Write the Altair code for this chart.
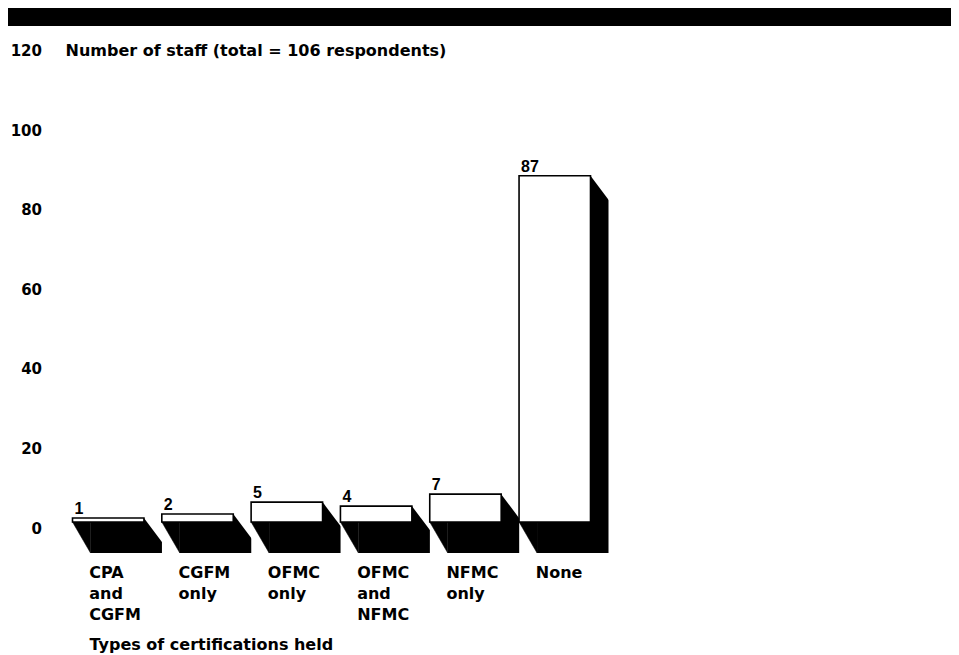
import altair as alt
import pandas as pd

categories = ["CPA and CGFM", "CGFM only", "OFMC only", "OFMC and NFMC", "NFMC only", "None"]
counts = [1, 2, 5, 4, 7, 87]
y_ticks = [0, 20, 40, 60, 80, 100, 120]

df = pd.DataFrame({"cat": categories, "n": counts, "zero": [0] * len(counts)})

TEXT_FONT = "DejaVu Sans"
NUM_FONT = "Liberation Sans"

xscale = alt.Scale(domain=categories, paddingInner=0.2, paddingOuter=0)
yscale = alt.Scale(domain=[0, 120], nice=False, zero=True)

x_axis = alt.Axis(
    title="Types of certifications held",
    labelExpr="split(datum.label, ' ')",
    labelAngle=0, labelAlign="left", labelBaseline="top", labelOffset=-19,
    labelPadding=42, labelLineHeight=21, labelOverlap=False, labelFlush=False,
    labelFont=TEXT_FONT, labelFontSize=16, labelFontWeight="bold", labelColor="black",
    labelLimit=300,
    domain=False, ticks=False, grid=False,
    titleX=16.5, titleY=114, titleAlign="left", titleBaseline="top", titleAnchor="start",
    titleFont=TEXT_FONT, titleFontSize=16, titleFontWeight="bold", titleColor="black",
)
y_axis = alt.Axis(
    values=y_ticks,
    title="Number of staff (total = 106 respondents)",
    labelPadding=31, labelOffset=6, labelAlign="right", labelBaseline="middle",
    labelFont=TEXT_FONT, labelFontSize=15, labelFontWeight="bold", labelColor="black",
    domain=False, ticks=False, grid=False,
    titleAngle=0, titleX=-7.5, titleY=5.6, titleAlign="left", titleBaseline="middle",
    titleFont=TEXT_FONT, titleFontSize=16, titleFontWeight="bold", titleColor="black",
)

def X(band_pos=None):
    if band_pos is None:
        return alt.X("cat:N", scale=xscale, sort=categories, axis=x_axis)
    return alt.X("cat:N", scale=xscale, sort=categories, axis=x_axis, bandPosition=band_pos)

Yn = alt.Y("n:Q", scale=yscale, axis=y_axis)
Y0 = alt.Y("zero:Q", scale=yscale, axis=y_axis)

base = alt.Chart(df)

# top decorative black band
band = alt.Chart(pd.DataFrame({"k": [0]})).mark_rect(color="black").encode(
    x=alt.value(-64.5), x2=alt.value(878.5), y=alt.value(-36.4), y2=alt.value(-18.4)
)

# extruded black depth (shifted right, extended below baseline)
depth = base.mark_bar(color="black", xOffset=18, yOffset=0, y2Offset=31).encode(
    x=X(), y=Yn, y2=alt.Y2("zero:Q")
)

# white cut at the top-right to make the slanted edge
cut = base.mark_point(
    shape="M-0.75,-1L19.5,-1L19.5,26Z", size=4, filled=True, fill="white",
    stroke="white", strokeWidth=0, strokeOpacity=0, opacity=1,
).encode(x=X(1), y=Yn)

# black slanted triangle at bottom-left
foot = base.mark_point(
    shape="M0,0L18,31L18,0Z", size=4, filled=True, fill="black",
    stroke="black", strokeWidth=0.5, opacity=1,
).encode(x=X(0), y=Y0)

front = base.mark_bar(fill="white", stroke="black", strokeWidth=1.6).encode(x=X(), y=Yn)

labels = base.mark_text(
    align="left", baseline="alphabetic", dx=2, dy=-4,
    font=NUM_FONT, fontSize=16, fontWeight="bold", color="black",
).encode(x=X(0), y=Yn, text="n:Q")

chart = alt.layer(band, depth, cut, foot, front, labels).properties(
    width=518, height=477.6,
    autosize=alt.AutoSizeParams(type="none"),
    padding={"left": 64.5, "top": 36.4, "right": 360.5, "bottom": 133},
    background="white",
).configure_view(stroke=None)

chart.save("out.html", embed_options={"renderer": "svg", "actions": False})
